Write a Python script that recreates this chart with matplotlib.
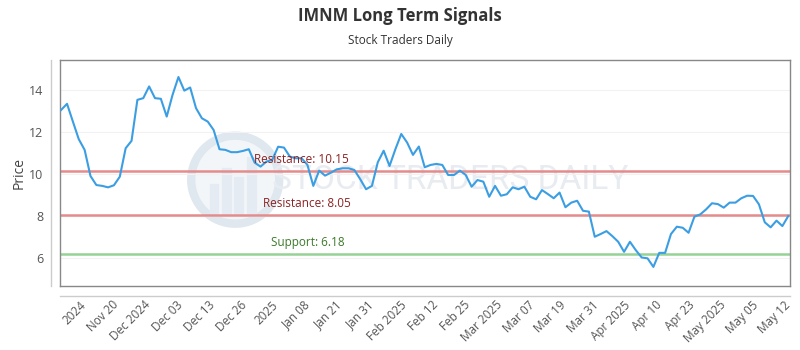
import numpy as np
import matplotlib.pyplot as plt
from matplotlib.lines import Line2D
from matplotlib.patches import Ellipse, Rectangle
import matplotlib.transforms as mtransforms

plt.rcParams['font.family'] = ['Open Sans', 'DejaVu Sans']

# closing prices (one per trading day)
prices = [13.06, 13.35, 12.50, 11.66, 11.15, 9.90, 9.47, 9.43, 9.36, 9.46,
          9.87, 11.23, 11.58, 13.54, 13.62, 14.18, 13.62, 13.59, 12.74, 13.78,
          14.63, 13.98, 14.13, 13.14, 12.66, 12.50, 12.10, 11.18, 11.15, 11.04,
          11.04, 11.10, 11.18, 10.54, 10.35, 10.59, 10.67, 11.30, 11.26, 10.83,
          10.75, 10.75, 10.43, 9.43, 10.16, 9.92, 10.06, 10.22, 10.27, 10.27,
          10.19, 9.75, 9.27, 9.43, 10.56, 11.11, 10.38, 11.18, 11.91, 11.50,
          10.91, 11.31, 10.32, 10.43, 10.48, 10.43, 9.95, 9.95, 10.16, 9.95,
          9.39, 9.71, 9.63, 8.91, 9.43, 8.96, 9.03, 9.36, 9.27, 9.39,
          8.91, 8.79, 9.23, 9.04, 8.84, 9.11, 8.41, 8.63, 8.72, 8.24,
          8.20, 7.00, 7.13, 7.27, 7.03, 6.76, 6.28, 6.76, 6.36, 6.01,
          5.97, 5.56, 6.23, 6.23, 7.13, 7.48, 7.43, 7.19, 7.96, 8.07,
          8.31, 8.60, 8.56, 8.39, 8.63, 8.63, 8.84, 8.96, 8.95, 8.55,
          7.69, 7.45, 7.77, 7.51, 7.99]

tick_labels = ['2024', 'Nov 20', 'Dec 2024', 'Dec 03', 'Dec 13', 'Dec 26', '2025',
               'Jan 08', 'Jan 21', 'Jan 31', 'Feb 2025', 'Feb 12', 'Feb 25',
               'Mar 2025', 'Mar 07', 'Mar 19', 'Mar 31', 'Apr 2025', 'Apr 10',
               'Apr 23', 'May 2025', 'May 05', 'May 12']

levels = [10.15, 8.05, 6.18]
level_names = ['Resistance', 'Resistance', 'Support']

x = np.arange(len(prices))

fig = plt.figure(figsize=(8, 3.5), dpi=100)
ax = fig.add_axes([0.075, 0.183, 0.9125, 0.646])

# watermark (logo circle + text), axes is 730x226 px
cx, cy = 0.24, 0.47
ax.add_patch(Ellipse((cx, cy), 88 / 730, 88 / 226, transform=ax.transAxes,
                     facecolor='#f3f6f9', edgecolor='#dfe7ef', lw=6, zorder=0))
for bx, bh in zip([-0.035, -0.018, -0.001, 0.016], [0.13, 0.2, 0.16, 0.25]):
    ax.add_patch(Rectangle((cx + bx, cy - 0.15), 0.012, bh, transform=ax.transAxes,
                           color='#e4ebf2', zorder=0))
ax.text(0.535, 0.47, 'STOCK TRADERS DAILY', transform=ax.transAxes, ha='center',
        va='center', fontsize=24, color='#e8ecf1', family='Roboto',
        fontweight='normal', zorder=0)

ax.plot(x, prices, color='#3b9ee3', lw=1.5, zorder=3)

colors = ['#e48c8c', '#e48c8c', '#96d296']
txt_colors = ['#8b2323', '#8b2323', '#3c7a2a']
lab_x = [0.33, 0.338, 0.34]
trans = mtransforms.blended_transform_factory(ax.transAxes, ax.transData)
for lv, nm, c, tc, lx in zip(levels, level_names, colors, txt_colors, lab_x):
    ax.axhline(lv, color=c, lw=1.8, zorder=2)
    ax.text(lx, lv + 0.22, '%s: %.2f' % (nm, lv), transform=trans, ha='center',
            va='bottom', fontsize=8.5, color=tc, zorder=4)

ax.set_xlim(-0.2, len(prices) - 0.7)
ax.set_ylim(4.65, 15.45)
ax.set_yticks([6, 8, 10, 12, 14])
ax.yaxis.grid(True, color='#f2f2f2', lw=0.8)
ax.set_axisbelow(True)

ax.set_xticks(np.linspace(3.2, 123.2, len(tick_labels)))
ax.set_xticklabels(tick_labels, rotation=45, ha='right', rotation_mode='anchor',
                   fontsize=8.5, color='#555555')
ax.tick_params(axis='x', length=0, pad=9)
ax.tick_params(axis='y', length=0, pad=12, labelsize=9, labelcolor='#555555')
for sp in ax.spines.values():
    sp.set_color('#888888')
    sp.set_linewidth(1)

ax.set_ylabel('Price', fontsize=10, color='#444444', labelpad=2)

# outer axis lines
fig.add_artist(Line2D([51 / 800, 51 / 800], [1 - 60 / 350, 1 - 286 / 350],
                      color='#cccccc', lw=1))
fig.add_artist(Line2D([60 / 800, 790 / 800], [1 - 296 / 350, 1 - 296 / 350],
                      color='#cccccc', lw=1))

fig.text(0.5, 0.955, 'IMNM Long Term Signals', ha='center', va='center',
         fontsize=12, fontweight='bold', color='#333333')
fig.text(0.5, 0.885, 'Stock Traders Daily', ha='center', va='center',
         fontsize=8.5, color='#333333')

fig.savefig('out.png', dpi=100)
